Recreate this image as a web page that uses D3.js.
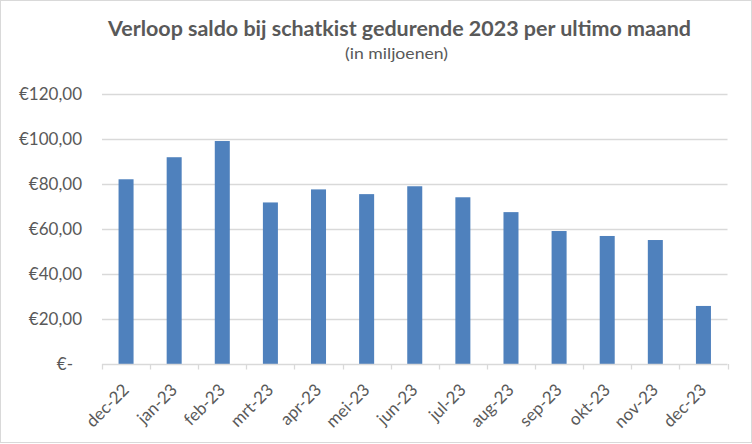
<!DOCTYPE html>
<html>
<head>
<meta charset="utf-8">
<script src="https://cdn.jsdelivr.net/npm/d3@7"></script>
<style>
  html, body { margin: 0; padding: 0; background: #fff; }
  svg { display: block; }
</style>
</head>
<body>
<svg id="chart" width="752" height="444"></svg>
<script>
const categories = ["dec-22","jan-23","feb-23","mrt-23","apr-23","mei-23","jun-23","jul-23","aug-23","sep-23","okt-23","nov-23","dec-23"];
const saldo = [82.1, 91.9, 99.1, 71.8, 77.6, 75.5, 79.0, 74.1, 67.5, 59.1, 56.9, 55.1, 25.8];
const yTicks = [0, 20, 40, 60, 80, 100, 120];
const yTickLabels = ["€-", "€20,00", "€40,00", "€60,00", "€80,00", "€100,00", "€120,00"];
const title = "Verloop saldo bij schatkist gedurende 2023 per ultimo maand";
const subtitle = "(in miljoenen)";

const W = 752, H = 444;
const plot = { left: 102, right: 727.5, top: 94, bottom: 364 };
const textColor = "#595959";
const gridColor = "#d9d9d9";
const barColor = "#4f81bd";
const font = "Lato, 'Open Sans', 'Noto Sans', sans-serif";

const svg = d3.select("#chart");

// chart border
svg.append("rect").attr("x", 0.5).attr("y", 0.5).attr("width", W - 1).attr("height", 442)
  .attr("fill", "#fff").attr("stroke", gridColor).attr("stroke-width", 1);

const y = d3.scaleLinear().domain([0, 120]).range([plot.bottom, plot.top]);
const p = 0.688;
const x = d3.scaleBand().domain(categories).range([plot.left, plot.right]).paddingInner(p).paddingOuter(p / 2);

// gridlines
svg.append("g").selectAll("line").data(yTicks.filter(d => d > 0)).join("line")
  .attr("x1", plot.left).attr("x2", plot.right)
  .attr("y1", d => Math.round(y(d)) + 0.5).attr("y2", d => Math.round(y(d)) + 0.5)
  .attr("stroke", gridColor).attr("stroke-width", 1.3);

// y labels
svg.append("g").selectAll("text").data(yTicks).join("text")
  .attr("x", d => d === 0 ? 73 : 82)
  .attr("y", d => y(d))
  .attr("dy", "0.36em")
  .attr("text-anchor", "end")
  .attr("font-family", font).attr("font-size", 17).attr("fill", textColor)
  .text((d, i) => yTickLabels[i]);

// bars
svg.append("g").selectAll("rect").data(saldo).join("rect")
  .attr("x", (d, i) => x(categories[i]))
  .attr("width", x.bandwidth())
  .attr("y", d => y(d))
  .attr("height", d => y(0) - y(d))
  .attr("fill", barColor);

// x axis line + tick marks at category boundaries
const boundaries = d3.range(categories.length + 1).map(i => plot.left + i * (plot.right - plot.left) / categories.length);
const axisG = svg.append("g");
axisG.append("line").attr("x1", plot.left).attr("x2", plot.right)
  .attr("y1", y(0) + 0.5).attr("y2", y(0) + 0.5)
  .attr("stroke", gridColor).attr("stroke-width", 1.3);
axisG.selectAll("line.tick").data(boundaries).join("line").attr("class", "tick")
  .attr("x1", d => Math.round(d) + 0.5).attr("x2", d => Math.round(d) + 0.5)
  .attr("y1", y(0)).attr("y2", y(0) + 5.5)
  .attr("stroke", gridColor).attr("stroke-width", 1.3);

// x labels rotated -45
svg.append("g").selectAll("text").data(categories).join("text")
  .attr("transform", d => `translate(${x(d) + x.bandwidth() / 2 + 4},${plot.bottom + 27}) rotate(-45)`)
  .attr("text-anchor", "end")
  .attr("font-family", font).attr("font-size", 17).attr("fill", textColor)
  .text(d => d);

// titles
svg.append("text").attr("x", 399.5).attr("y", 36)
  .attr("text-anchor", "middle")
  .attr("font-family", font).attr("font-weight", "bold").attr("font-size", 20.5)
  .attr("fill", textColor)
  .attr("textLength", 583).attr("lengthAdjust", "spacingAndGlyphs")
  .text(title);
svg.append("text").attr("x", 396.5).attr("y", 59)
  .attr("text-anchor", "middle")
  .attr("font-family", font).attr("font-size", 14.5)
  .attr("fill", textColor)
  .attr("textLength", 103).attr("lengthAdjust", "spacingAndGlyphs")
  .text(subtitle);
</script>
</body>
</html>
